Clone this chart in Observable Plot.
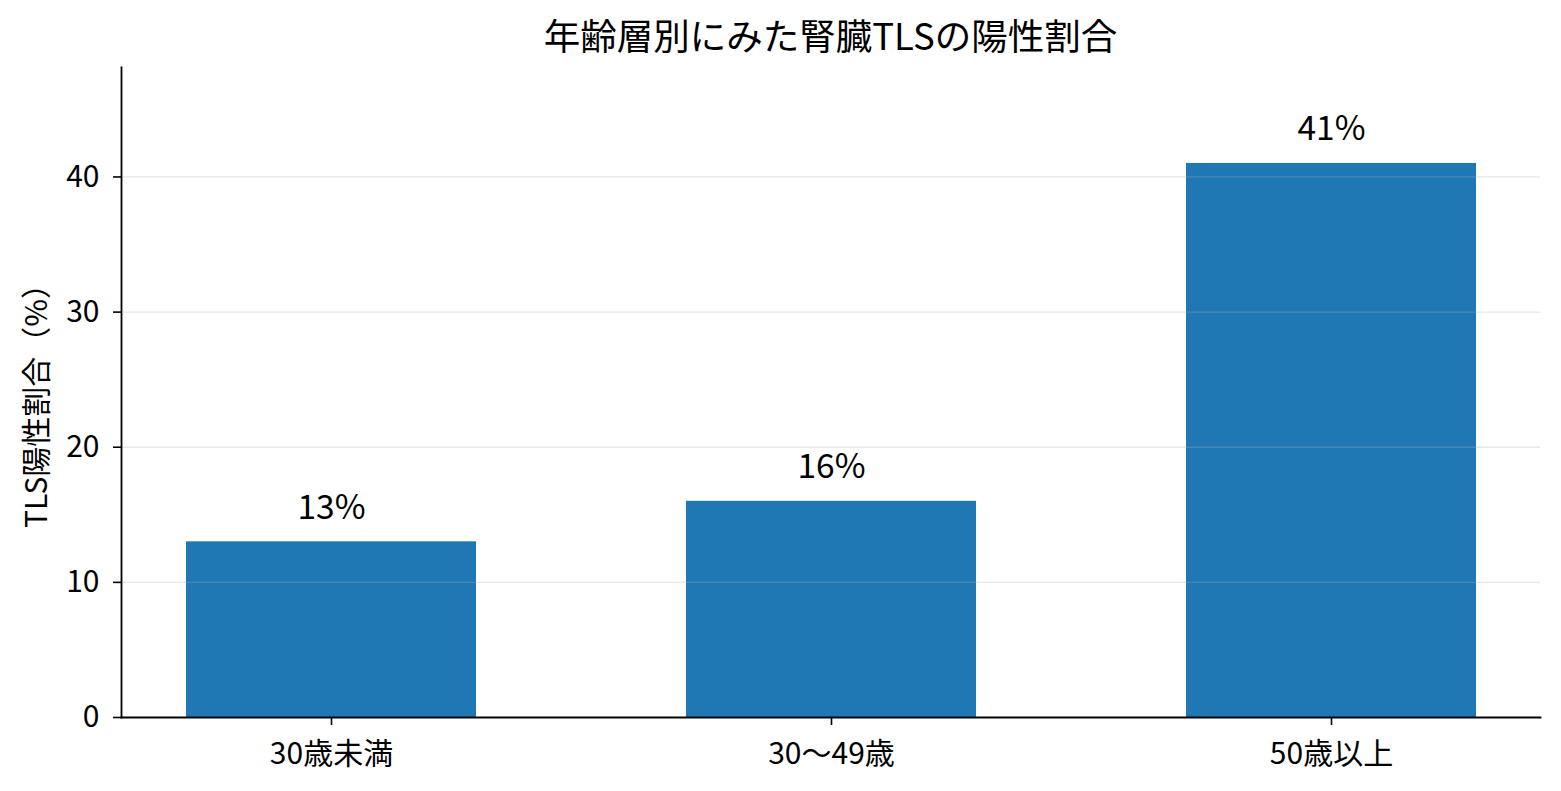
<!DOCTYPE html>
<html>
<head>
<meta charset="utf-8">
<script src="https://cdn.jsdelivr.net/npm/d3@7"></script>
<script src="https://cdn.jsdelivr.net/npm/@observablehq/plot@0.6"></script>
<style>
  html, body { margin: 0; padding: 0; background: #fff; }
  body { width: 1561px; height: 791px; overflow: hidden; font-family: "Noto Sans CJK JP", "Noto Sans", sans-serif; }
  #title { box-sizing: border-box; height: 60px; margin-left: 121px; width: 1419px; text-align: center;
           font-size: 36.5px; line-height: 54px; padding-top: 8px; color: #000; white-space: nowrap; }
  #chart svg { display: block; }
</style>
</head>
<body>
<div id="title">年齢層別にみた腎臓TLSの陽性割合</div>
<div id="chart"></div>
<script>
const categories = ["30歳未満", "30〜49歳", "50歳以上"];
const positiveRate = [13, 16, 41];
const yTicks = [0, 10, 20, 30, 40];
const yLabel = "TLS陽性割合（%）";

const data = categories.map((c, i) => ({category: c, value: positiveRate[i]}));
const font = "Noto Sans CJK JP";

const chart = Plot.plot({
  width: 1561,
  height: 731,
  marginTop: 7,
  marginBottom: 74,
  marginLeft: 121,
  marginRight: 21,
  style: {fontFamily: font, background: "#fff", color: "#000"},
  x: {type: "band", domain: categories, paddingInner: 0.42, paddingOuter: 0.128},
  y: {domain: [0, 48.1]},
  marks: [
    Plot.barY(data, {x: "category", y: "value", fill: "#1f77b4"}),
    Plot.gridY(yTicks.filter(d => d > 0), {stroke: "#b0b0b0", strokeOpacity: 0.3, strokeWidth: 1.3}),
    Plot.text(data, {x: "category", y: "value", text: d => d.value + "%", lineAnchor: "bottom", dy: -23, fontSize: 33.5, fill: "#000"}),
    Plot.axisY(yTicks, {tickSize: 8, tickPadding: 14, fontSize: 30, label: null, stroke: "#000", strokeWidth: 1.6}),
    Plot.axisX({tickSize: 8, tickPadding: 17, fontSize: 30, label: null, stroke: "#000", strokeWidth: 1.6}),
    Plot.frame({anchor: "left", stroke: "#000", strokeWidth: 1.8}),
    Plot.frame({anchor: "bottom", stroke: "#000", strokeWidth: 1.8}),
    Plot.text([yLabel], {frameAnchor: "left", rotate: -90, dx: -84, dy: 6, fontSize: 30, textAnchor: "middle", lineAnchor: "middle", fill: "#000"})
  ]
});
document.getElementById("chart").appendChild(chart);
</script>
</body>
</html>
